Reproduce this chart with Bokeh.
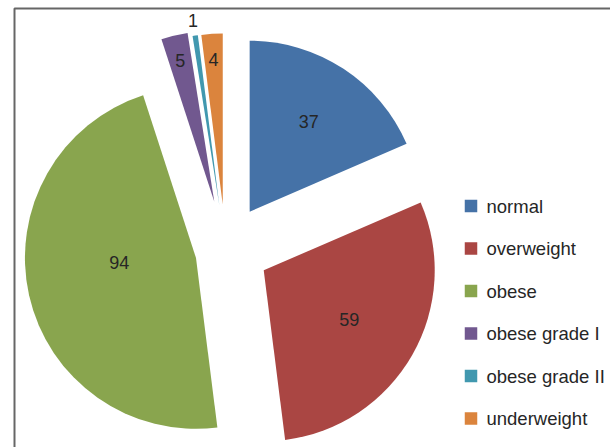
import math
from bokeh.plotting import figure
from bokeh.models import Range1d, ColumnDataSource
from bokeh.core.properties import value
from bokeh.embed import file_html
from bokeh.resources import INLINE

# ---- data ----
categories = ["normal", "overweight", "obese", "obese grade I", "obese grade II", "underweight"]
counts = [37, 59, 94, 5, 1, 4]
colors = ["#4572A7", "#AA4643", "#89A54E", "#71588F", "#4198AF", "#DB843D"]

# ---- layout / style ----
W, H = 610, 447
CX, CY = 225.0, 447 - 248.0      # pie centre (data units = px, y up)
R = 171.0
explode = [44, 44, 31, 48, 44, 44]
explode_turn = [0, 0, -5, 0, 0, 0]      # small direction tweak (deg)
label_turn = [0, 0, 9, 0, 0, 0]
FONT = "Liberation Sans"
TXT = "#262626"

total = float(sum(counts))
start_rad, end_rad, ax, ay, lx, ly = [], [], [], [], [], []
cum = 0.0
for i, c in enumerate(counts):
    t1 = cum / total * 360.0          # clockwise from 12 o'clock
    t2 = (cum + c) / total * 360.0
    cum += c
    tm = math.radians((t1 + t2) / 2 + explode_turn[i])
    x0 = CX + explode[i] * math.sin(tm)
    y0 = CY + explode[i] * math.cos(tm)
    ax.append(x0); ay.append(y0)
    start_rad.append(math.radians(90 - t2)); end_rad.append(math.radians(90 - t1))
    alpha = math.radians(t2 - t1)
    if c >= 20:
        L = 4 * R * math.sin(alpha / 2) / (3 * alpha)   # centroid of sector
    elif c <= 1:
        L = R * 1.09
    else:
        L = R * 0.85
    tl = math.radians((t1 + t2) / 2 + label_turn[i])
    lx.append(x0 + L * math.sin(tl)); ly.append(y0 + L * math.cos(tl))

src = ColumnDataSource(dict(x=ax, y=ay, s=start_rad, e=end_rad, c=colors,
                            lx=lx, ly=ly, t=[str(v) for v in counts]))

p = figure(width=W, height=H, output_backend="svg", toolbar_location=None,
           x_range=Range1d(0, W), y_range=Range1d(0, H), min_border=0)
p.axis.visible = False
p.grid.visible = False
p.outline_line_color = None
p.background_fill_color = "white"
p.border_fill_color = "white"

# chart area frame (only top-left visible)
p.line(x=[14, 14, W + 20], y=[-20, H - 8, H - 8], line_color="#666666", line_width=2)

p.wedge(x="x", y="y", radius=R, start_angle="s", end_angle="e",
        fill_color="c", line_color=None, source=src)

p.text(x="lx", y="ly", text="t", source=src, text_align="center", text_baseline="middle",
       text_font=value(FONT), text_font_size="18px", text_color=TXT)

# legend
leg_y = [H - (205.5 + 42.5 * i) for i in range(len(categories))]
p.rect(x=[470.5] * len(categories), y=leg_y, width=12.5, height=12.5,
       fill_color=colors, line_color=None)
p.text(x=[486] * len(categories), y=leg_y, text=categories,
       text_align="left", text_baseline="middle",
       text_font=value(FONT), text_font_size="18.5px", text_color=TXT)

open("out.html", "w").write(file_html(p, INLINE))
